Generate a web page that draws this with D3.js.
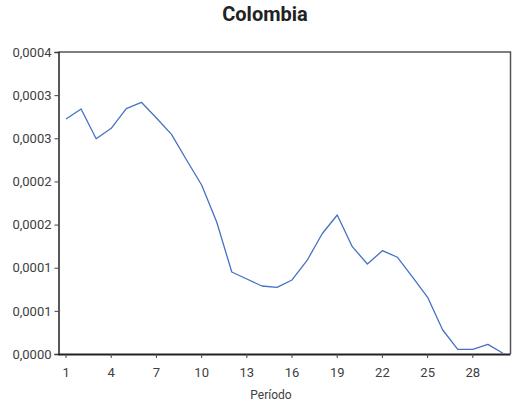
<!DOCTYPE html>
<html>
<head>
<meta charset="utf-8">
<script src="https://cdn.jsdelivr.net/npm/d3@7"></script>
<style>
  body { margin: 0; background: #fff; }
  svg { display: block; }
</style>
</head>
<body>
<svg id="chart" width="514" height="408"></svg>
<script>
const title = "Colombia";
const xTitle = "Período";
const periods = d3.range(1, 31);
const values = [
  0.0002724, 0.0002840, 0.0002495, 0.0002616, 0.0002843, 0.0002917, 0.0002735, 0.0002546, 0.0002248, 0.0001959,
  0.0001530, 0.0000950, 0.0000869, 0.0000788, 0.0000773, 0.0000858, 0.0001084, 0.0001394, 0.0001611, 0.0001244,
  0.0001043, 0.0001197, 0.0001121, 0.0000892, 0.0000657, 0.0000278, 0.0000054, 0.0000054, 0.0000112, 0.0000008
];
const yTicks = [0, 0.00005, 0.0001, 0.00015, 0.0002, 0.00025, 0.0003, 0.00035];
const xTickLabels = [1, 4, 7, 10, 13, 16, 19, 22, 25, 28];

const svg = d3.select("#chart");
const m = { left: 58.5, right: 510.5, top: 52, bottom: 354 };

const x = d3.scaleBand().domain(periods).range([m.left, m.right]).padding(0);
const y = d3.scaleLinear().domain([0, 0.00035]).range([m.bottom, m.top]);

const fmt = v => (Math.round(v * 1e4 + 1e-7) / 1e4).toFixed(4).replace(".", ",");
const textColor = "#404040";
const font = "Roboto, 'Open Sans', sans-serif";

// plot border (top/right)
svg.append("path")
  .attr("d", `M${m.left},${m.top}H${m.right}V${m.bottom}`)
  .attr("fill", "none").attr("stroke", "#555").attr("stroke-width", 1.5);

// Y axis
const yAxis = svg.append("g").attr("transform", `translate(${m.left},0)`)
  .call(d3.axisLeft(y).tickValues(yTicks).tickFormat(fmt).tickSize(4).tickPadding(3));
yAxis.select(".domain").attr("stroke", "#222").attr("stroke-width", 1.5);
yAxis.selectAll(".tick line").attr("stroke", "#444");
yAxis.selectAll("text").attr("font-family", font).attr("font-size", 13).attr("fill", textColor);

// X axis
const xAxis = svg.append("g").attr("transform", `translate(0,${m.bottom})`)
  .call(d3.axisBottom(x).tickValues(xTickLabels).tickSize(4).tickPadding(10));
xAxis.select(".domain").attr("stroke", "#222").attr("stroke-width", 2).attr("d", `M${m.left},0.5H${m.right}`);
xAxis.selectAll(".tick line").attr("stroke", "#444");
xAxis.selectAll("text").attr("font-family", font).attr("font-size", 13).attr("fill", textColor);

// line
const line = d3.line().x((d, i) => x(periods[i]) + x.bandwidth() / 2).y(d => y(d));
svg.append("path").datum(values)
  .attr("d", line).attr("fill", "none")
  .attr("stroke", "#4472C4").attr("stroke-width", 1.3).attr("stroke-linejoin", "round");

// titles
svg.append("text").attr("x", 265).attr("y", 21).attr("text-anchor", "middle")
  .attr("font-family", font).attr("font-weight", "bold").attr("font-size", 20).attr("fill", "#222")
  .text(title);
svg.append("text").attr("x", 271).attr("y", 399).attr("text-anchor", "middle")
  .attr("font-family", font).attr("font-size", 12).attr("fill", textColor)
  .text(xTitle);
</script>
</body>
</html>
